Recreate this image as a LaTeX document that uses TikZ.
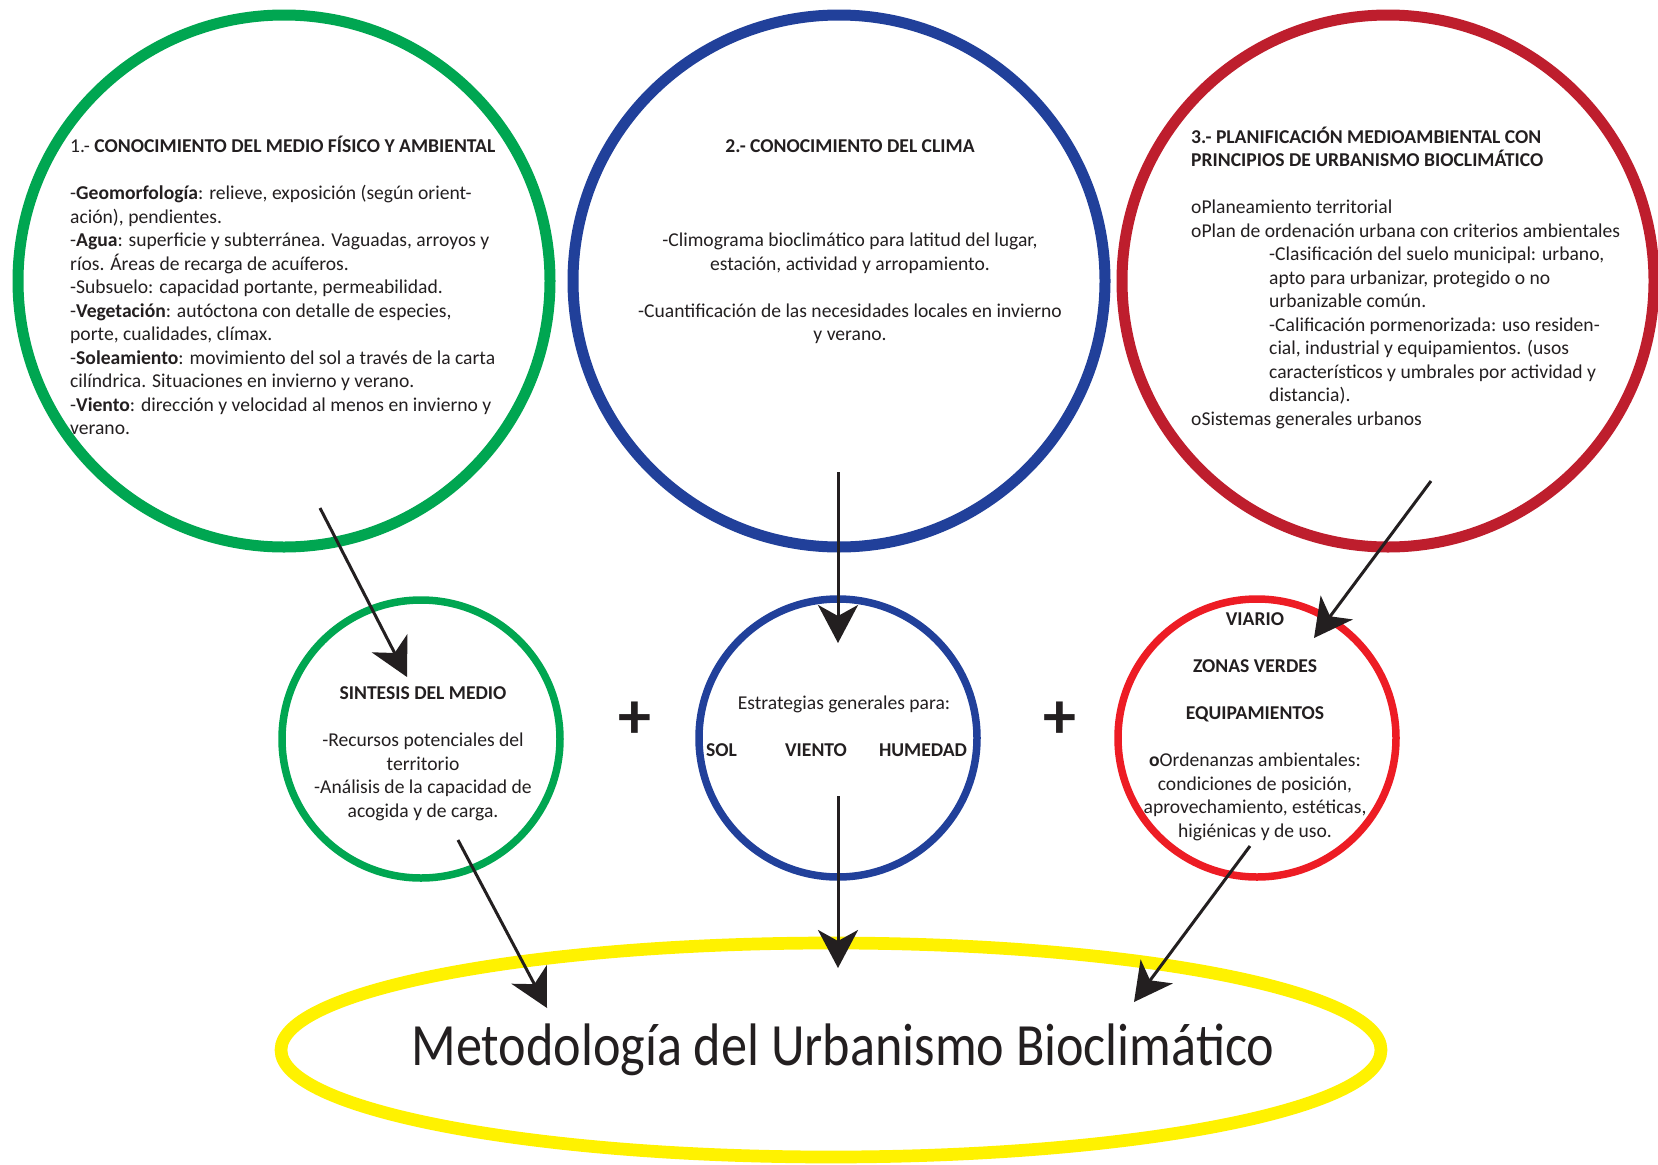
\documentclass[tikz,border=0pt]{standalone}
\usepackage{fontspec}
\setmainfont{Carlito}
\usetikzlibrary{arrows.meta,shapes.geometric}
\definecolor{cgreen}{RGB}{0,166,81}
\definecolor{cblue}{RGB}{33,64,154}
\definecolor{cred}{RGB}{190,30,45}
\definecolor{cred2}{RGB}{237,28,36}
\definecolor{cyellow}{RGB}{255,242,0}
\definecolor{ctext}{RGB}{35,31,32}
\begin{document}
\begin{tikzpicture}[x=1pt,y=-1pt,
 bigc/.style={circle, minimum size=532pt, inner sep=0pt, line width=11pt},
 smallc/.style={circle, minimum size=278pt, inner sep=0pt, line width=7.5pt},
 body/.style={inner sep=0pt, anchor=base west, text=ctext, font=\fontsize{19.6}{23.5}\selectfont},
 bodyc/.style={inner sep=0pt, anchor=base, text=ctext, font=\fontsize{19.6}{23.5}\selectfont},
 flow/.style={line width=3pt, draw=ctext, -{Stealth[length=38pt,width=40pt,inset=11pt]}},
 plus/.style={inner sep=0pt, text=ctext, font=\fontsize{66}{66}\selectfont\bfseries},
]
\useasboundingbox (0,0) rectangle (1658,1165);
\fill[white] (0,0) rectangle (1658,1165);

% big circles
\node[bigc, draw=cgreen] (c1) at (284,281) {};
\node[bigc, draw=cblue] (c2) at (839,281) {};
\node[bigc, draw=cred] (c3) at (1388,281) {};

% small circles
\node[smallc, draw=cgreen] (s1) at (421,739) {};
\node[smallc, draw=cblue] (s2) at (838,738) {};
\node[smallc, draw=cred2] (s3) at (1257,738) {};

% yellow ellipse
\node[ellipse, draw=cyellow, line width=12.7pt, minimum width=1100pt, minimum height=214pt, inner sep=0pt] (meta) at (831,1050) {};

% texts big circles
\node[body] (t1) at (70,152.5) {\begin{minipage}[t]{470pt}\raggedright
1.- \textbf{CONOCIMIENTO DEL MEDIO FÍSICO Y AMBIENTAL}\\[23.5pt]
-\textbf{Geomorfología}: relieve, exposición (según orient-\\
ación), pendientes.\\
-\textbf{Agua}: superficie y subterránea. Vaguadas, arroyos y\\
ríos. Áreas de recarga de acuíferos.\\
-Subsuelo: capacidad portante, permeabilidad.\\
-\textbf{Vegetación}: autóctona con detalle de especies,\\
porte, cualidades, clímax.\\
-\textbf{Soleamiento}: movimiento del sol a través de la carta\\
cilíndrica. Situaciones en invierno y verano.\\
-\textbf{Viento}: dirección y velocidad al menos en invierno y\\
verano.
\end{minipage}};

\node[bodyc] (t2) at (850,152.5) {\begin{minipage}[t]{470pt}\centering
\textbf{2.- CONOCIMIENTO DEL CLIMA}\\[70.5pt]
-Climograma bioclimático para latitud del lugar,\\
estación, actividad y arropamiento.\\[23.5pt]
-Cuantificación de las necesidades locales en invierno\\
y verano.
\end{minipage}};

\node[body] (t3) at (1191,143) {\begin{minipage}[t]{470pt}\raggedright
\textbf{3.- PLANIFICACIÓN MEDIOAMBIENTAL CON}\\
\textbf{PRINCIPIOS DE URBANISMO BIOCLIMÁTICO}\\[23.5pt]
oPlaneamiento territorial\\
oPlan de ordenación urbana con criterios ambientales\\
\hspace*{78pt}-Clasificación del suelo municipal: urbano,\\
\hspace*{78pt}apto para urbanizar, protegido o no\\
\hspace*{78pt}urbanizable común.\\
\hspace*{78pt}-Calificación pormenorizada: uso residen-\\
\hspace*{78pt}cial, industrial y equipamientos. (usos\\
\hspace*{78pt}característicos y umbrales por actividad y\\
\hspace*{78pt}distancia).\\
oSistemas generales urbanos
\end{minipage}};

% texts small circles
\node[bodyc] (u1) at (423,699.5) {\begin{minipage}[t]{260pt}\centering
\textbf{SINTESIS DEL MEDIO}\\[23.5pt]
-Recursos potenciales del\\
territorio\\
-Análisis de la capacidad de\\
acogida y de carga.
\end{minipage}};

\node[bodyc] (u2) at (844,709) {Estrategias generales para:};
\node[body] (u2a) at (706,756) {\textbf{SOL}};
\node[bodyc] (u2b) at (816,756) {\textbf{VIENTO}};
\node[bodyc] (u2c) at (923,756) {\textbf{HUMEDAD}};

\node[bodyc] (u3) at (1255,625.5) {\begin{minipage}[t]{300pt}\centering
\textbf{VIARIO}\\[23.5pt]
\textbf{ZONAS VERDES}\\[23.5pt]
\textbf{EQUIPAMIENTOS}\\[23.5pt]
\textbf{o}Ordenanzas ambientales:\\
condiciones de posición,\\
aprovechamiento, estéticas,\\
higiénicas y de uso.
\end{minipage}};

% plus signs
\node[plus] (p1) at (635,720) {+};
\node[plus] (p2) at (1060,720) {+};

% main title
\node[inner sep=0pt, anchor=base, text=ctext, font=\fontsize{60}{72}\selectfont] (title) at (843,1065) {\scalebox{0.87}[1]{Metodología del Urbanismo Bioclimático}};

% arrows
\coordinate (a1s) at (320,508);
\coordinate (a1e) at (407,677);
\coordinate (a2s) at (838,472);
\coordinate (a2e) at (838,643);
\coordinate (a3s) at (1431,481);
\coordinate (a3e) at (1314,638);
\coordinate (a4s) at (458,840);
\coordinate (a4e) at (547,1008);
\coordinate (a5s) at (838,796);
\coordinate (a5e) at (838,968);
\coordinate (a6s) at (1250,846);
\coordinate (a6e) at (1134,1002);
\draw[flow] (a1s) -- (a1e);
\draw[flow] (a2s) -- (a2e);
\draw[flow] (a3s) -- (a3e);
\draw[flow] (a4s) -- (a4e);
\draw[flow] (a5s) -- (a5e);
\draw[flow] (a6s) -- (a6e);
\end{tikzpicture}
\end{document}
